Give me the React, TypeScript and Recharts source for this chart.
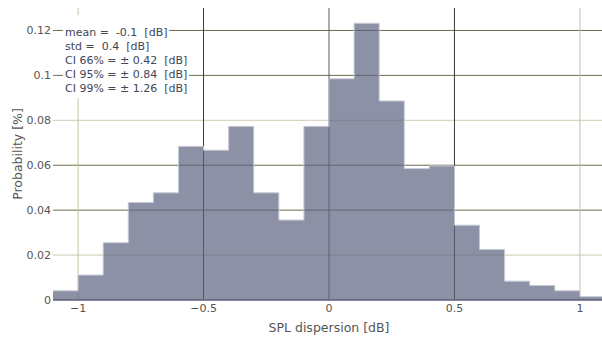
import { Area, CartesianGrid, ComposedChart, XAxis, YAxis } from "recharts";

// histogram bins of SPL dispersion, 0.1 dB wide
const binEdges = [
  -1.1, -1.0, -0.9, -0.8, -0.7, -0.6, -0.5, -0.4, -0.3, -0.2, -0.1, 0, 0.1,
  0.2, 0.3, 0.4, 0.5, 0.6, 0.7, 0.8, 0.9, 1.0, 1.1,
];
const probabilities = [
  0.0041, 0.0111, 0.0255, 0.0434, 0.0477, 0.0684, 0.0667, 0.0773, 0.0477,
  0.0356, 0.0773, 0.0985, 0.1232, 0.0886, 0.0585, 0.0597, 0.0333, 0.0225,
  0.0084, 0.0065, 0.0041, 0.0015,
];

const xTicks = [-1, -0.5, 0, 0.5, 1];
const yTicks = [0, 0.02, 0.04, 0.06, 0.08, 0.1, 0.12];
const hGridValues = [0.02, 0.04, 0.06, 0.08, 0.1, 0.12];

const stats = [
  "mean =  -0.1  [dB]",
  "std =  0.4  [dB]",
  "CI 66% = ± 0.42  [dB]",
  "CI 95% = ± 0.84  [dB]",
  "CI 99% = ± 1.26  [dB]",
];

// step area needs a closing point at the last edge
const data = binEdges.map((x, i) => ({
  x,
  p: probabilities[Math.min(i, probabilities.length - 1)],
}));

const FONT = "'DejaVu Sans', Verdana, sans-serif";
const DARK = "#6f6b4c";
const LIGHT = "#cdcbb4";
const hGridColors = [LIGHT, DARK, DARK, LIGHT, DARK, DARK];
const vGridColors = ["#c4c1a3", "#3b3a30", "#555a70", "#3b3a30", "#c4c1a3"];

const fmtX = (v: number) => (v < 0 ? `\u2212${Math.abs(v)}` : `${v}`);

export default function App() {
  return (
    <div
      style={{
        position: "absolute",
        left: 0,
        top: 0,
        width: 602,
        height: 338,
        overflow: "hidden",
        background: "#fff",
        fontFamily: FONT,
      }}
    >
      <ComposedChart
        width={602}
        height={338}
        data={data}
        margin={{ top: 8, right: -3, left: 0, bottom: 0 }}
      >
        <CartesianGrid
          horizontalValues={hGridValues}
          verticalValues={xTicks}
          horizontal={(p: any) => (
            <line
              key={`h${p.index}`}
              x1={p.x1}
              x2={p.x2}
              y1={p.y1}
              y2={p.y2}
              stroke={hGridColors[p.index]}
              strokeWidth={1}
            />
          )}
          vertical={(p: any) => (
            <line
              key={`v${p.index}`}
              x1={p.x1}
              x2={p.x2}
              y1={p.y1}
              y2={p.y2}
              stroke={vGridColors[p.index]}
              strokeWidth={1}
            />
          )}
        />
        <XAxis
          dataKey="x"
          type="number"
          domain={[-1.1, 1.1]}
          ticks={xTicks}
          tickFormatter={fmtX}
          height={38}
          tickLine={false}
          tickSize={0}
          tickMargin={4}
          axisLine={{ stroke: "#5b6078", strokeWidth: 1.5 }}
          tick={{ fill: "#555", fontSize: 11, fontFamily: FONT }}
          label={{
            value: "SPL dispersion [dB]",
            position: "insideBottom",
            offset: 6,
            fill: "#555",
            fontSize: 12.5,
            fontFamily: FONT,
          }}
        />
        <YAxis
          type="number"
          domain={[0, 0.13]}
          ticks={yTicks}
          width={53}
          tickLine={false}
          axisLine={false}
          tickSize={0}
          tickMargin={2}
          tick={{ fill: "#555", fontSize: 11, fontFamily: FONT }}
          label={({ viewBox }: any) => {
            const cx = 17;
            const cy = viewBox.y + viewBox.height / 2;
            return (
              <text
                x={cx}
                y={cy}
                transform={`rotate(-90 ${cx} ${cy})`}
                textAnchor="middle"
                dominantBaseline="central"
                fill="#555"
                fontSize={12.5}
                fontFamily={FONT}
              >
                Probability [%]
              </text>
            );
          }}
        />
        <Area
          type="stepAfter"
          dataKey="p"
          fill="#5b6280"
          fillOpacity={0.7}
          stroke="#c8cad6"
          strokeWidth={1}
          isAnimationActive={false}
        />
      </ComposedChart>
      <div
        style={{
          position: "absolute",
          left: 63,
          top: 15,
          fontSize: 11,
          lineHeight: "14px",
          color: "#3e4659",
        }}
      >
        {stats.map((s, i) => (
          <div key={s}>
            <span
              style={{
                display: "inline-block",
                whiteSpace: "pre",
                background: "#fff",
                padding: `${i === 0 ? 11 : 0}px 2px ${i === stats.length - 1 ? 2 : 0}px 2px`,
              }}
            >
              {s}
            </span>
          </div>
        ))}
      </div>
    </div>
  );
}
